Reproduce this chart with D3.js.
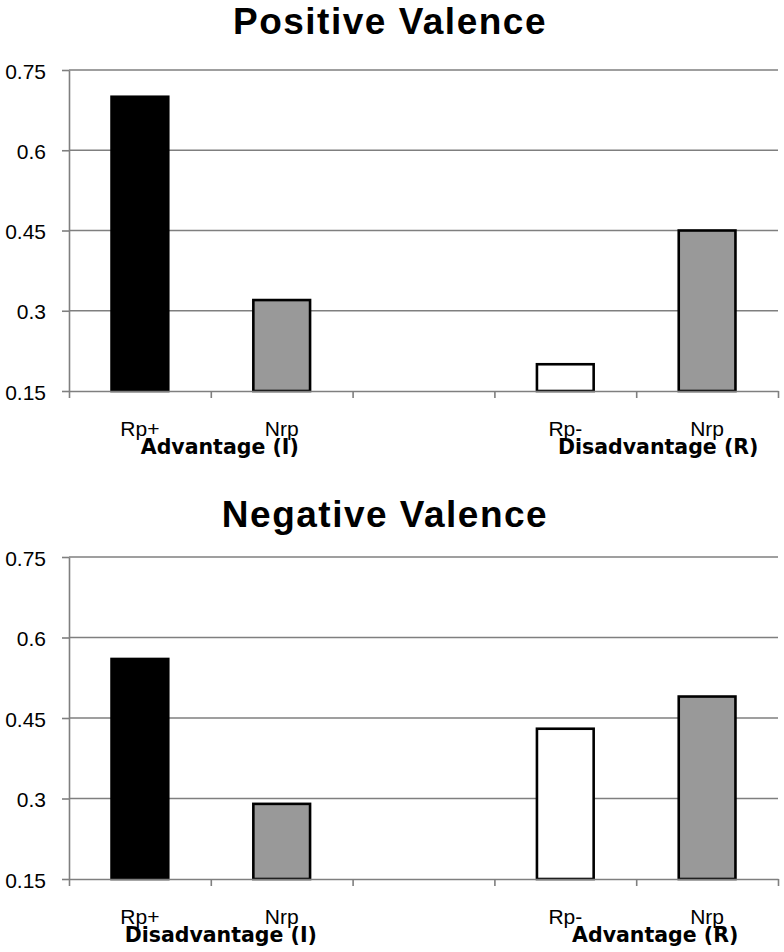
<!DOCTYPE html>
<html>
<head>
<meta charset="utf-8">
<script src="https://cdn.jsdelivr.net/npm/d3@7"></script>
<style>
  html, body { margin: 0; padding: 0; background: #fff; }
  svg { display: block; }
</style>
</head>
<body>
<svg id="chart" width="784" height="952"></svg>
<script>
// ---- data ----
const categories = ["Rp+", "Nrp", "", "Rp-", "Nrp"];
const positiveValues = [0.70, 0.32, null, 0.20, 0.45];
const negativeValues = [0.56, 0.29, null, 0.43, 0.49];
const yTicks = [0.15, 0.3, 0.45, 0.6, 0.75];
const yTickLabels = ["0.15", "0.3", "0.45", "0.6", "0.75"];
const panelTitles = ["Positive Valence", "Negative Valence"];
const positiveGroups = ["Advantage (I)", "Disadvantage (R)"];
const negativeGroups = ["Disadvantage (I)", "Advantage (R)"];

// ---- styles / layout ----
const barFill = ["#000000", "#999999", "none", "#ffffff", "#999999"];
const gridColor = "#7f7f7f";
const panels = [
  { title: panelTitles[0], values: positiveValues, groups: positiveGroups,
    titleX: 390, titleY: 34, yTop: 70, yBottom: 391, groupShift: [9, 22] },
  { title: panelTitles[1], values: negativeValues, groups: negativeGroups,
    titleX: 385, titleY: 527, yTop: 557, yBottom: 879, groupShift: [10, 19] }
];
const xLeft = 69, xRight = 778;

const svg = d3.select("#chart");

const idx = d3.range(categories.length);
const xBand = d3.scaleBand().domain(idx).range([xLeft, xRight]).padding(0);
const xEdge = d3.scaleLinear().domain([0, categories.length]).range([xLeft, xRight]);
const barFrac = 0.4;

panels.forEach(p => {
  const g = svg.append("g");
  const y = d3.scaleLinear().domain([0.15, 0.75]).range([p.yBottom, p.yTop]);

  // title
  g.append("text")
    .attr("x", p.titleX).attr("y", p.titleY)
    .attr("text-anchor", "middle")
    .style("font-family", "'Liberation Sans', Arial, sans-serif")
    .style("font-weight", "bold")
    .style("font-size", "37px")
    .style("letter-spacing", "1.5px")
    .style("fill", "#000")
    .text(p.title);

  // gridlines
  g.append("g").selectAll("line")
    .data(yTicks.filter(t => t > 0.15))
    .join("line")
    .attr("x1", xLeft).attr("x2", xRight)
    .attr("y1", d => y(d)).attr("y2", d => y(d))
    .attr("stroke", gridColor).attr("stroke-width", 1.6);

  // y axis
  const yAxis = d3.axisLeft(y)
    .tickValues(yTicks)
    .tickFormat((d, i) => yTickLabels[i])
    .tickSizeInner(7).tickSizeOuter(0).tickPadding(16);
  const ya = g.append("g").attr("transform", `translate(${xLeft},0)`).call(yAxis);
  ya.select(".domain").attr("stroke", gridColor).attr("stroke-width", 1.6);
  ya.selectAll(".tick line").attr("stroke", gridColor).attr("stroke-width", 1.6);
  ya.selectAll(".tick text")
    .attr("dy", null).attr("y", 8)
    .style("font-family", "'Liberation Sans', Arial, sans-serif")
    .style("font-size", "21px").style("fill", "#000");

  // bars
  g.append("g").selectAll("rect")
    .data(idx.filter(i => p.values[i] != null))
    .join("rect")
    .attr("x", i => xBand(i) + xBand.bandwidth() * (1 - barFrac) / 2)
    .attr("width", xBand.bandwidth() * barFrac)
    .attr("y", i => y(p.values[i]))
    .attr("height", i => y(0.15) - y(p.values[i]))
    .attr("fill", i => barFill[i])
    .attr("stroke", "#000").attr("stroke-width", 2.6);

  // x axis (ticks at category boundaries)
  const xAxis = d3.axisBottom(xEdge)
    .tickValues(d3.range(categories.length + 1))
    .tickFormat("").tickSizeInner(7).tickSizeOuter(0);
  const xa = g.append("g").attr("transform", `translate(0,${p.yBottom})`).call(xAxis);
  xa.select(".domain").attr("stroke", gridColor).attr("stroke-width", 1.6);
  xa.selectAll(".tick line").attr("stroke", gridColor).attr("stroke-width", 1.6);

  // category labels
  g.append("g").selectAll("text")
    .data(idx.filter(i => categories[i] !== ""))
    .join("text")
    .attr("x", i => xBand(i) + xBand.bandwidth() / 2)
    .attr("y", p.yBottom + 45)
    .attr("text-anchor", "middle")
    .style("font-family", "'Liberation Sans', Arial, sans-serif")
    .style("font-size", "21px").style("fill", "#000")
    .text(i => categories[i]);

  // group labels
  const groupPairs = [[0, 1], [3, 4]];
  g.append("g").selectAll("text")
    .data(p.groups)
    .join("text")
    .attr("x", (d, k) => {
      const [a, b] = groupPairs[k];
      return (xBand(a) + xBand(b) + xBand.bandwidth()) / 2 + p.groupShift[k];
    })
    .attr("y", p.yBottom + 63)
    .attr("text-anchor", "middle")
    .style("font-family", "'DejaVu Sans', sans-serif")
    .style("font-weight", "bold")
    .style("font-size", "20.5px").style("fill", "#000")
    .text(d => d);
});
</script>
</body>
</html>
